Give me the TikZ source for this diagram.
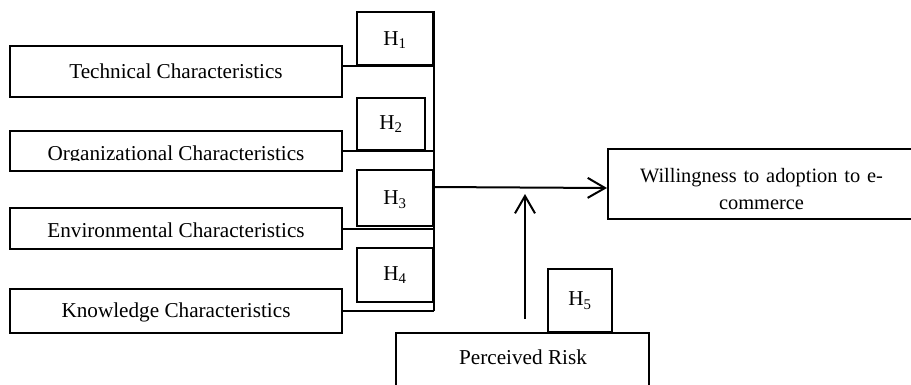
\documentclass[tikz,border=0pt]{standalone}
\usepackage{fontspec}
\setmainfont{Liberation Serif}
\usetikzlibrary{arrows.meta}

\begin{document}
\begin{tikzpicture}[x=0.75pt,y=0.75pt,yscale=-1,xscale=1, line width=1.5pt,
		every node/.style={font=\fontsize{15.9}{20}\selectfont},
		box/.style={draw, line width=1.5pt, inner sep=0pt, align=center},
		arr/.style={-{Straight Barb[length=13pt,width=15pt]}}]
		\useasboundingbox (0,0) rectangle (911,385);
		\clip (0,0) rectangle (911,385);
		
		%Shape: Rectangle (characteristics)
		\node [box, minimum width=249pt, minimum height=38.25pt] (tech) at (176,71.5) {Technical Characteristics};
		\node [box, minimum width=249pt, minimum height=30pt] (org) at (176,151) {};
		\node [box, minimum width=249pt, minimum height=30.75pt] (env) at (176,228.5) {\rule{0pt}{14pt}Environmental Characteristics};
		\node [box, minimum width=249pt, minimum height=33pt] (know) at (176,311) {\rule{0pt}{13pt}Knowledge Characteristics};
		% Text Node (cut off at the bottom)
		\begin{scope}
			\clip (10,131) rectangle (342,160);
			\node [anchor=base] (orgtext) at (176,161) {Organizational Characteristics};
		\end{scope}
		
		%Shape: Rectangle (hypotheses)
		\node [box, minimum width=57pt, minimum height=39.75pt] (h1) at (395,38.5) {\rule{0pt}{13pt}H\textsubscript{1}};
		\node [box, minimum width=51pt, minimum height=39pt] (h2) at (391,124) {H\textsubscript{2}};
		\node [box, minimum width=57pt, minimum height=42pt] (h3) at (395,198) {\rule{0pt}{13pt}H\textsubscript{3}};
		\node [box, minimum width=57pt, minimum height=40.5pt] (h4) at (395,275) {H\textsubscript{4}};
		\node [box, minimum width=48pt, minimum height=47.25pt] (h5) at (580,300.5) {H\textsubscript{5}};
		
		%Shape: Rectangle (outcome, moderator)
		\node [box, minimum width=230.25pt, minimum height=52.5pt, text width=210pt, font=\fontsize{15.3}{20}\selectfont] (will) at (761.5,184) {\rule{0pt}{18pt}Willingness to adoption to e-\\commerce};
		\node [box, minimum width=189.75pt, minimum height=60pt] (risk) at (522.5,373) {};
		% Text Node
		\node (risktext) at (523,357) {Perceived Risk};
		
		%Straight Lines
		\coordinate (bustop) at (h1.north east);
		\coordinate (busbot) at (know.east -| h1.east);
		\draw (bustop) -- (busbot);
		\draw (tech.east |- h1.south) -- (h1.south east);
		\draw (org.east |- h2.south) -- (h2.south -| bustop);
		\draw (env.east) -- (env.east -| bustop);
		\draw (know.east) -- (busbot);
		%Straight Lines (arrows)
		\coordinate (join) at (433,187);
		\draw [arr] (join) -- ([yshift=3pt]will.west);
		\coordinate (riskout) at (525,319);
		\coordinate (modtip) at (525,194);
		\draw [arr] (riskout) -- (modtip);
\end{tikzpicture}
\end{document}
